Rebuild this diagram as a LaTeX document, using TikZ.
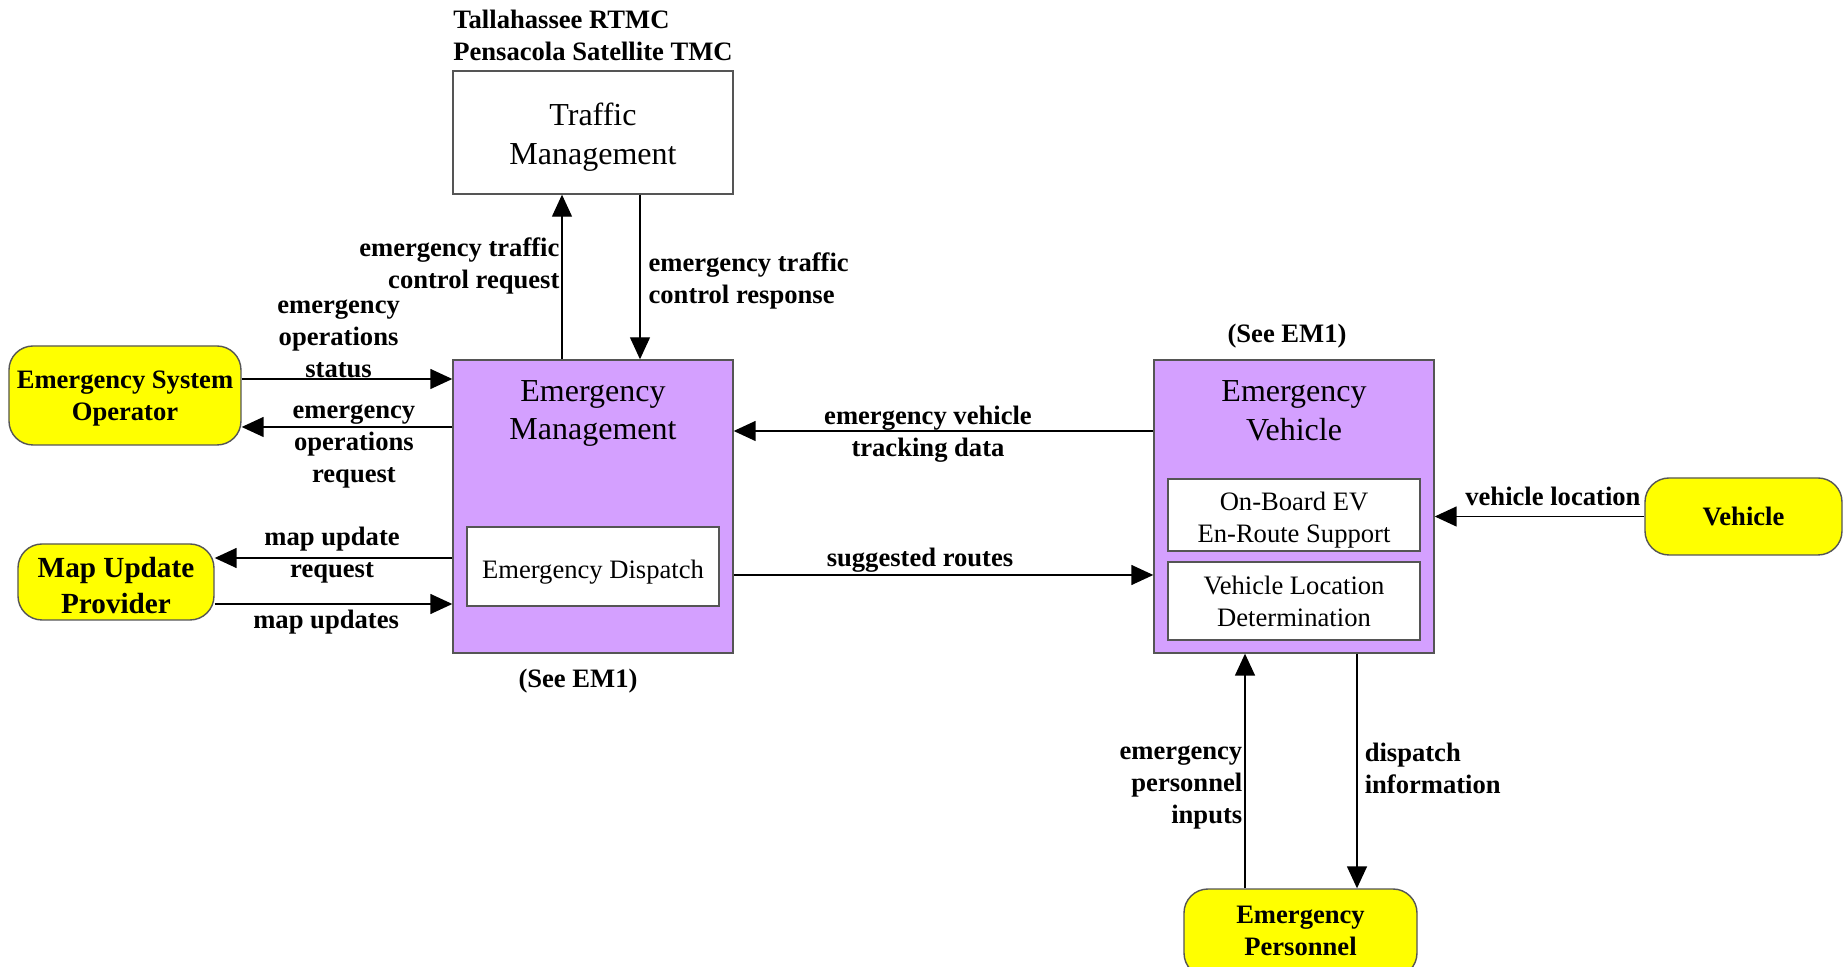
\documentclass[tikz,border=0pt]{standalone}
\usepackage{fontspec}
\setmainfont{Liberation Serif}
\usetikzlibrary{arrows.meta}
\definecolor{emfill}{RGB}{212,160,255}
\definecolor{termfill}{RGB}{255,255,0}
\definecolor{edge}{RGB}{85,85,85}

\begin{document}
\begin{tikzpicture}
\tikzset{node distance=2cm, >={Triangle[length=11pt,width=10pt]},
    block/.style={rectangle, draw=edge, line width=0.7pt, align=center, font=\fontsize{16}{19.3}\selectfont},
    title/.style={align=center, font=\fontsize{16}{19.3}\selectfont},
    subblock/.style={rectangle, draw=edge, fill=white, line width=0.7pt, align=center, minimum width=126pt, font=\fontsize{13.3}{16}\selectfont},
    subtext/.style={align=center, font=\fontsize{13.3}{16}\selectfont},
    term/.style={rectangle, rounded corners=12pt, draw=edge, fill=termfill, line width=0.7pt},
    termtext/.style={align=center, font=\fontsize{13.3}{16}\selectfont\bfseries},
    flow/.style={->, line width=0.75pt},
    lbl/.style={font=\fontsize{13.3}{16}\selectfont\bfseries, align=center, inner sep=1pt}
}
\useasboundingbox (-296.5pt,-230.25pt) rectangle (626pt,253.25pt);

  \node[block, fill=emfill, minimum width=140pt, minimum height=146.5pt] (EM) at (0,0) {};
  \node[block, fill=emfill, minimum width=140pt, minimum height=146.5pt, right of=EM, node distance=350.5pt] (EV) {};
  \node[block, minimum width=140pt, minimum height=61.5pt, above of=EM, node distance=187pt] (TM) {};
  \node[title, above of=EM, node distance=184.65pt] (TMname) {Traffic\\Management};
  \node[lbl, align=left, above of=TM, node distance=48.75pt] (TMsite) {Tallahassee RTMC\\Pensacola Satellite TMC};
  \node[title, above of=EM, node distance=46.5pt] (EMname) {Emergency\\Management};
  \node[subblock, minimum height=39.5pt, below of=EM, node distance=30pt] (ED) {};
  \node[subtext, below of=EM, node distance=33pt] (EDname) {Emergency Dispatch};
  \node[lbl, below of=EM, node distance=87.5pt, xshift=-7.5pt] (seeEM) {(See EM1)};
  \node[title, above of=EV, node distance=48pt] (EVname) {Emergency\\Vehicle};
  \node[subblock, minimum height=36pt, below of=EV, node distance=4.25pt] (OBE) {};
  \node[subtext, below of=EV, node distance=6.85pt] (OBEname) {On-Board EV\\En-Route Support};
  \node[subblock, minimum height=39pt, below of=EV, node distance=47.25pt] (VLD) {Vehicle Location\\Determination};
  \node[lbl, above of=EV, node distance=85pt, xshift=-3.5pt] (seeEV) {(See EM1)};
  \node[term, minimum width=116pt, minimum height=49.5pt, left of=EM, node distance=234pt, yshift=55.5pt] (ESO) {};
  \node[termtext, left of=EM, node distance=234pt, yshift=53.75pt] (ESOname) {Emergency System\\Operator};
  \node[term, minimum width=98pt, minimum height=38pt, left of=EM, node distance=238.5pt, yshift=-37.75pt] (MUP) {};
  \node[termtext, left of=EM, node distance=238.5pt, yshift=-39.5pt, font=\fontsize{14.6}{17.6}\selectfont\bfseries] (MUPname) {Map Update\\Provider};
  \node[term, minimum width=98.5pt, minimum height=38.5pt, right of=EV, node distance=224.75pt, yshift=-5pt] (veh) {};
  \node[termtext, right of=EV, node distance=224.75pt, yshift=-5pt] (vehname) {Vehicle};
  \node[term, minimum width=116.5pt, minimum height=44pt, below of=EV, node distance=213.25pt, xshift=3.25pt] (EP) {};
  \node[termtext, below of=EV, node distance=212pt, xshift=3.25pt] (EPname) {Emergency\\Personnel};

  \coordinate (EMa) at ([yshift=63.75pt]EM.west);
  \coordinate (EMb) at ([yshift=39.75pt]EM.west);
  \coordinate (EMc) at ([yshift=-25.75pt]EM.west);
  \coordinate (EMd) at ([yshift=-48.75pt]EM.west);
  \coordinate (EMup) at ([xshift=-15.5pt]EM.north);
  \coordinate (EMdn) at ([xshift=23.5pt]EM.north);
  \coordinate (EMe) at ([yshift=37.75pt]EM.east);
  \coordinate (EMf) at ([yshift=-34.25pt]EM.east);
  \coordinate (EVup) at ([xshift=-24.5pt]EV.south);
  \coordinate (EVdn) at ([xshift=31.5pt]EV.south);

  \draw[flow] (ESO.east |- EMa) -- node[lbl, above, pos=0.46, yshift=-1pt] {emergency\\operations\\status} (EMa);
  \draw[flow] (EMb) -- node[lbl, pos=0.467, yshift=-10pt] {emergency\\operations\\request} (ESO.east |- EMb);
  \draw[flow] (EMc) -- node[lbl, pos=0.506, yshift=1.55pt] {map update\\request} (MUP.east |- EMc);
  \draw[flow] (MUP.east |- EMd) -- node[lbl, below, pos=0.469, yshift=-1.75pt] {map updates} (EMd);
  \draw[flow, line width=0.6pt] (EMup) -- node[lbl, left, align=right, pos=0.57] {emergency traffic\\control request} (EMup |- TM.south);
  \draw[flow, line width=0.6pt] (EMdn |- TM.south) -- node[lbl, right, align=left, pos=0.527, xshift=3pt] {emergency traffic\\control response} (EMdn);
  \draw[flow] (EMe -| EV.west) -- node[lbl, pos=0.537, yshift=-1.5pt] {emergency vehicle\\tracking data} (EMe);
  \draw[flow] (EMf) -- node[lbl, above, pos=0.444] {suggested routes} (EMf -| EV.west);
  \draw[flow] (veh.west) -- node[lbl, above, pos=0.436, yshift=4pt] {vehicle location} (veh.west -| EV.east);
  \draw[flow] (EVup |- EP.north) -- node[lbl, left, align=right, pos=0.43] {emergency\\personnel\\inputs} (EVup);
  \draw[flow] (EVdn) -- node[lbl, right, align=left, pos=0.49, xshift=2.5pt] {dispatch\\information} (EVdn |- EP.north);
\end{tikzpicture}
\end{document}
